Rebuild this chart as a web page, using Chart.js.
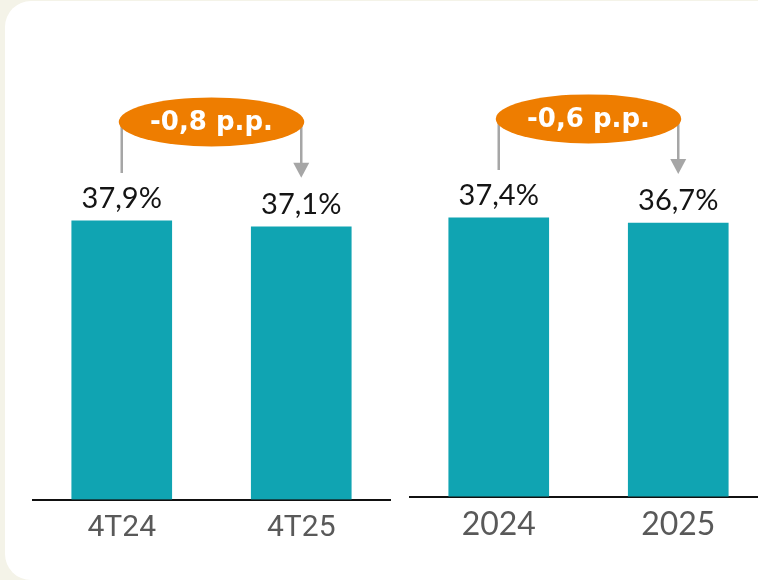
<!DOCTYPE html>
<html>
<head>
<meta charset="utf-8">
<script src="https://cdn.jsdelivr.net/npm/chart.js@4.4.1/dist/chart.umd.min.js"></script>
<style>
  html, body { margin: 0; padding: 0; width: 758px; height: 580px; overflow: hidden; background: #f4f3e8; }
  .card { position: absolute; left: 5px; top: 1px; width: 800px; height: 579px; background: #fff; border-radius: 26px; }
  .box { position: absolute; top: 0; height: 580px; width: 359px; }
  #leftBox { left: 32px; }
  #rightBox { left: 409px; }
</style>
</head>
<body>
<div class="card"></div>
<div class="box" id="leftBox"><canvas id="leftChart"></canvas></div>
<div class="box" id="rightBox"><canvas id="rightChart"></canvas></div>
<script>
// data
const quarterLabels = ['4T24', '4T25'];
const quarterValues = [37.9, 37.1];
const yearLabels = ['2024', '2025'];
const yearValues = [37.4, 36.7];
const deltaLabels = ['-0,8 p.p.', '-0,6 p.p.'];

const TEAL = '#10a4b2';
const ORANGE = '#ee7d00';
const GREY = '#a6a6a6';

function fmt(v) {
    return v.toFixed(1).replace('.', ',') + '%';
}

// value labels + orange delta bubble with connector arrow
const annotate = {
    id: 'annotate',
    afterDatasetsDraw(chart, args, opts) {
        const ctx = chart.ctx;
        const bars = chart.getDatasetMeta(0).data;
        const values = chart.data.datasets[0].data;

        ctx.save();
        ctx.fillStyle = '#141414';
        ctx.font = '29px Lato';
        ctx.textAlign = 'center';
        ctx.textBaseline = 'alphabetic';
        bars.forEach((bar, i) => {
            ctx.fillText(fmt(values[i]), bar.x, bar.y - 13);
        });

        const x1 = bars[0].x;
        const x2 = bars[1].x;
        const cy = bars[0].y - 99;
        const cx = (x1 + x2) / 2;

        // connector lines
        ctx.strokeStyle = GREY;
        ctx.lineWidth = 2.5;
        ctx.beginPath();
        ctx.moveTo(x1, cy);
        ctx.lineTo(x1, bars[0].y - 48);
        const tip = bars[1].y - 49;
        ctx.moveTo(x2, cy);
        ctx.lineTo(x2, tip - 14);
        ctx.stroke();
        ctx.fillStyle = GREY;
        ctx.beginPath();
        ctx.moveTo(x2 - 8, tip - 15);
        ctx.lineTo(x2 + 8, tip - 15);
        ctx.lineTo(x2, tip);
        ctx.closePath();
        ctx.fill();

        // bubble
        ctx.fillStyle = ORANGE;
        ctx.beginPath();
        ctx.ellipse(cx, cy, (x2 - x1) / 2 + 3, 24.5, 0, 0, Math.PI * 2);
        ctx.fill();
        ctx.fillStyle = '#ffffff';
        ctx.font = 'bold 26px "DejaVu Sans"';
        ctx.textBaseline = 'middle';
        ctx.fillText(opts.delta, cx, cy + 1);
        ctx.restore();
    }
};

function makeChart(canvas, labels, values, delta, pad, tickFont, tickPad) {
    return new Chart(canvas.getContext('2d'), {
        type: 'bar',
        data: {
            labels,
            datasets: [{
                data: values,
                backgroundColor: TEAL,
                barThickness: 100,
            }],
        },
        options: {
            responsive: true,
            maintainAspectRatio: false,
            animation: false,
            layout: { padding: pad },
            scales: {
                x: {
                    grid: { display: false, drawTicks: false },
                    border: { color: '#111', width: 2 },
                    ticks: { color: '#595959', font: tickFont, padding: tickPad },
                },
                y: { display: false, min: 0, max: 50 },
            },
            plugins: {
                legend: { display: false },
                tooltip: { enabled: false },
                annotate: { delta },
            },
        },
        plugins: [annotate],
    });
}

makeChart(document.getElementById('leftChart'), quarterLabels, quarterValues, deltaLabels[0],
    { top: 132, bottom: 23.5, left: 0, right: 0 }, { family: 'Roboto', size: 30 }, 10.5);
makeChart(document.getElementById('rightChart'), yearLabels, yearValues, deltaLabels[1],
    { top: 124, bottom: 27, left: 0, right: 0 }, { family: 'Lato', size: 32 }, 9);
</script>
</body>
</html>
